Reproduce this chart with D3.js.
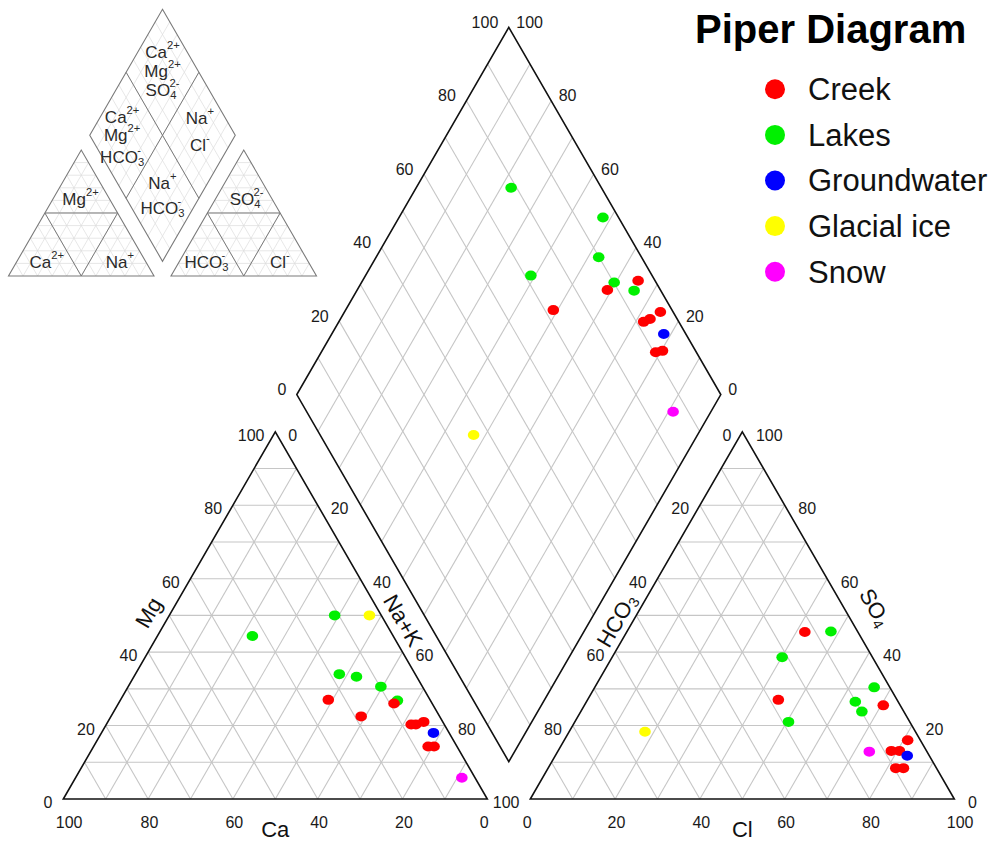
<!DOCTYPE html>
<html>
<head>
<meta charset="utf-8">
<script src="https://cdn.jsdelivr.net/npm/d3@7"></script>
<style>
  body { margin: 0; background: #fff; }
  svg { display: block; font-family: "Liberation Sans", Arial, sans-serif; }
</style>
</head>
<body>
<div class="vis-piper"></div>
<script>
// ---- data (percent of meq) ----
const groups = ["Creek", "Lakes", "Groundwater", "Glacial ice", "Snow"];
const groupColors = ["#ff0000", "#00f000", "#0000ff", "#ffff00", "#ff00ff"];

const sampleGroup = ["Lakes", "Lakes", "Lakes", "Lakes", "Lakes", "Lakes",
  "Creek", "Creek", "Creek", "Creek", "Creek", "Creek", "Creek", "Creek",
  "Groundwater", "Glacial ice", "Snow"];
// cations
const caPct  = [11, 33.2, 17.9, 14.2, 9.8, 7.8,   24, 9, 18.5, 4.5, 7.8, 6.7, 6.8, 5.4,   3.7, 2.8, 3.1];
const mgPct  = [50, 44.4, 34, 33.3, 30.6, 26.8,   27, 26, 22.5, 21, 20.3, 20.3, 14.3, 14.3,   18, 50, 5.8];
const naKPct = [39, 22.4, 48.1, 52.5, 59.6, 65.4, 49, 65, 59, 74.5, 71.9, 73, 78.9, 80.3,   78.3, 47.2, 91.1];
// anions
const hco3Pct = [28.6, 21.3, 3.7, 10.1, 9.9, 6.3,  28, 4, 12.5, 3, 8.3, 6.4, 9.6, 7.8,     5.2, 63.8, 13.6];
const so4Pct  = [21, 38.6, 30.4, 26.5, 23.8, 45.6, 27, 25.5, 45.5, 16, 13.1, 13.1, 8.4, 8.4, 11.8, 18.3, 12.9];
const clPct   = [50.4, 40.1, 65.9, 63.4, 66.3, 48.1, 45, 70.5, 42, 81, 78.6, 80.5, 82, 83.8, 83, 17.9, 73.5];

const tickValues = [0, 20, 40, 60, 80, 100];

// ---- setup ----
const width = 999, height = 842;
const sin60 = Math.sqrt(3) / 2;
const svg = d3.select(".vis-piper").append("svg")
    .attr("width", width)
    .attr("height", height);

const color = d3.scaleOrdinal().domain(groups).range(groupColors);

// piper geometry: two ternary triangles + diamond
function piperFrame(x0, y0, side, gap) {
  const len = d3.scaleLinear().domain([0, 100]).range([0, side]);
  const xR = x0 + side + gap;
  const bx = x0 + side + gap / 2, by = y0 - gap * sin60;
  return {
    cat: (ca, mg, na) => [x0 + len(na) + len(mg) / 2, y0 - len(mg) * sin60],
    an: (hco3, so4, cl) => [xR + len(cl) + len(so4) / 2, y0 - len(so4) * sin60],
    dia: (na, hco3) => [bx + (len(100 - hco3) - len(100 - na)) / 2,
                        by - (len(100 - na) + len(100 - hco3)) * sin60]
  };
}

function gridSegments(P, values) {
  const segs = [];
  values.forEach(v => {
    segs.push([P.cat(100 - v, v, 0), P.cat(0, v, 100 - v)]);
    segs.push([P.cat(100 - v, 0, v), P.cat(0, 100 - v, v)]);
    segs.push([P.cat(v, 100 - v, 0), P.cat(v, 0, 100 - v)]);
    segs.push([P.an(100 - v, v, 0), P.an(0, v, 100 - v)]);
    segs.push([P.an(100 - v, 0, v), P.an(0, 100 - v, v)]);
    segs.push([P.an(v, 100 - v, 0), P.an(v, 0, 100 - v)]);
    segs.push([P.dia(v, 0), P.dia(v, 100)]);
    segs.push([P.dia(0, v), P.dia(100, v)]);
  });
  return segs;
}

function outlines(P) {
  return [
    [P.cat(100, 0, 0), P.cat(0, 0, 100), P.cat(0, 100, 0)],
    [P.an(100, 0, 0), P.an(0, 0, 100), P.an(0, 100, 0)],
    [P.dia(0, 0), P.dia(100, 0), P.dia(100, 100), P.dia(0, 100)]
  ];
}

function drawLines(g, segs, stroke, w) {
  g.selectAll("line").data(segs).join("line")
    .attr("x1", d => d[0][0]).attr("y1", d => d[0][1])
    .attr("x2", d => d[1][0]).attr("y2", d => d[1][1])
    .attr("stroke", stroke).attr("stroke-width", w);
}

function drawOutlines(g, P, stroke, w) {
  g.selectAll("path").data(outlines(P)).join("path")
    .attr("d", d => "M" + d.map(p => p.join(",")).join("L") + "Z")
    .attr("fill", "none").attr("stroke", stroke).attr("stroke-width", w)
    .attr("stroke-linejoin", "miter");
}

// chemistry text with sub/superscripts
function chem(t, parts, fs) {
  let shift = 0;
  parts.forEach(([str, kind, dx]) => {
    const target = kind === "sup" ? -0.42 * fs : kind === "sub" ? 0.28 * fs : 0;
    const sp = t.append("tspan").attr("dy", target - shift).text(str);
    if (dx) sp.attr("dx", dx);
    if (kind !== "n") sp.attr("font-size", fs * 0.66);
    shift = target;
  });
  return t;
}

// ---- main diagram ----
const P = piperFrame(63.3, 799, 424, 43);
const main = svg.append("g");
drawLines(main.append("g"), gridSegments(P, d3.range(10, 100, 10)), "#c6c6c6", 1.1);
drawOutlines(main.append("g"), P, "#111", 1.6);

// tick labels
const ticks = main.append("g").attr("font-size", 16).attr("fill", "#1a1a1a")
    .attr("dominant-baseline", "central");
function tickText(pos, dx, dy, anchor, label) {
  ticks.append("text").attr("x", pos[0] + dx).attr("y", pos[1] + dy)
    .attr("text-anchor", anchor).text(label);
}
tickValues.forEach(v => {
  tickText(P.cat(100 - v, v, 0), -10.8, 3.5, "end", v);            // Mg
  if (v < 100) tickText(P.cat(0, 100 - v, v), 13, 3.5, "start", v); // Na+K
  tickText([P.cat(v, 0, 100 - v)[0], 822], -7.5, 0, "start", v);    // Ca
  tickText(P.an(v, 100 - v, 0), -10.8, 3.5, "end", v);              // HCO3
  tickText(P.an(0, v, 100 - v), 13.6, 3.5, "start", v);             // SO4
  tickText([P.an(100 - v, 0, v)[0], 822], -7.5, 0, "start", v);     // Cl
  tickText(P.dia(0, 100 - v), -10.5, -5, "end", v);                 // SO4+Cl
  tickText(P.dia(100 - v, 0), 7.5, -5, "start", v);                 // Ca+Mg
});

// axis titles
const titles = main.append("g").attr("font-size", 22).attr("fill", "#111")
    .attr("text-anchor", "middle").attr("dominant-baseline", "central");
function axisTitle(pos, dx, dy, rot, parts) {
  const x = pos[0] + dx, y = pos[1] + dy;
  chem(titles.append("text").attr("x", x).attr("y", y)
    .attr("transform", `rotate(${rot},${x},${y})`), parts, 22);
}
axisTitle(P.cat(50, 50, 0), -21, -3, -60, [["Mg", "n"]]);
axisTitle(P.cat(0, 50, 50), 22, 5, 60, [["Na+K", "n"]]);
axisTitle(P.an(50, 50, 0), -20, 5, -60, [["HCO", "n"], ["3", "sub"]]);
axisTitle(P.an(0, 50, 50), 27, -8, 60, [["SO", "n"], ["4", "sub"]]);
titles.append("text").attr("x", P.cat(50, 0, 50)[0]).attr("y", 829).text("Ca");
titles.append("text").attr("x", P.an(50, 0, 50)[0]).attr("y", 829).text("Cl");

// samples
const samples = sampleGroup.map((g, i) => ({
  group: g, ca: caPct[i], mg: mgPct[i], na: naKPct[i],
  hco3: hco3Pct[i], so4: so4Pct[i], cl: clPct[i]
}));
const dots = [];
samples.forEach(d => {
  dots.push({ group: d.group, p: P.cat(d.ca, d.mg, d.na) });
  dots.push({ group: d.group, p: P.an(d.hco3, d.so4, d.cl) });
  dots.push({ group: d.group, p: P.dia(d.na, d.hco3) });
});
main.append("g").selectAll("ellipse").data(dots).join("ellipse")
  .attr("cx", d => d.p[0]).attr("cy", d => d.p[1])
  .attr("rx", 5.8).attr("ry", 5)
  .attr("fill", d => color(d.group));

// ---- title & legend ----
svg.append("text").attr("x", 695).attr("y", 43)
  .attr("font-size", 40).attr("font-weight", "bold").attr("fill", "#000")
  .text("Piper Diagram");

const legendY = d3.scalePoint().domain(groups).range([89.3, 271.7]);
const legend = svg.append("g").selectAll("g").data(groups).join("g")
  .attr("transform", d => `translate(775,${legendY(d)})`);
legend.append("circle").attr("r", 10).attr("fill", d => color(d));
legend.append("text").attr("x", 33).attr("dy", "0.35em")
  .attr("font-size", 31).attr("fill", "#111").text(d => d);

// ---- inset: hydrochemical facies ----
const Q = piperFrame(8.5, 276, 145.5, 17);
const inset = svg.append("g");
drawLines(inset.append("g"), gridSegments(Q, d3.range(10, 100, 10)), "#dcdcdc", 0.7);
drawLines(inset.append("g"), gridSegments(Q, [50]), "#7a7a7a", 1);
drawOutlines(inset.append("g"), Q, "#7a7a7a", 1.1);

const facies = [
  { pos: Q.dia(25, 25), dx: 0, lines: [[-20, [["Ca", "n"], ["2+", "sup"]]], [-1, [["Mg", "n"], ["2+", "sup"]]], [18, [["SO", "n"], ["4", "sub"], ["2-", "sup", -7]]]] },
  { pos: Q.dia(25, 75), dx: -4, lines: [[-18.5, [["Ca", "n"], ["2+", "sup"]]], [-0.5, [["Mg", "n"], ["2+", "sup"]]], [21.5, [["HCO", "n"], ["3", "sub"], ["-", "sup", -7]]]] },
  { pos: Q.dia(75, 25), dx: 1, lines: [[-17, [["Na", "n"], ["+", "sup"]]], [10, [["Cl", "n"], ["-", "sup"]]]] },
  { pos: Q.dia(75, 75), dx: 0, lines: [[-15.6, [["Na", "n"], ["+", "sup"]]], [10, [["HCO", "n"], ["3", "sub"], ["-", "sup", -7]]]] },
  { pos: Q.cat(20, 61, 19), dx: 0, lines: [[0, [["Mg", "n"], ["2+", "sup"]]]] },
  { pos: Q.cat(68, 11.3, 20.7), dx: 0, lines: [[0, [["Ca", "n"], ["2+", "sup"]]]] },
  { pos: Q.cat(17.8, 11.3, 70.9), dx: 0, lines: [[0, [["Na", "n"], ["+", "sup"]]]] },
  { pos: Q.an(17.5, 61, 21.5), dx: 0, lines: [[0, [["SO", "n"], ["4", "sub"], ["2-", "sup", -7]]]] },
  { pos: Q.an(69.9, 11.3, 18.8), dx: 0, lines: [[0, [["HCO", "n"], ["3", "sub"], ["-", "sup", -7]]]] },
  { pos: Q.an(19.5, 11.3, 69.2), dx: 0, lines: [[0, [["Cl", "n"], ["-", "sup"]]]] }
];
const insetText = inset.append("g").attr("font-size", 17).attr("fill", "#2a2a2a")
  .attr("text-anchor", "middle").attr("dominant-baseline", "central");
facies.forEach(f => {
  f.lines.forEach(([dy, parts]) => {
    chem(insetText.append("text").attr("x", f.pos[0] + f.dx).attr("y", f.pos[1] + dy), parts, 17);
  });
});
</script>
</body>
</html>
